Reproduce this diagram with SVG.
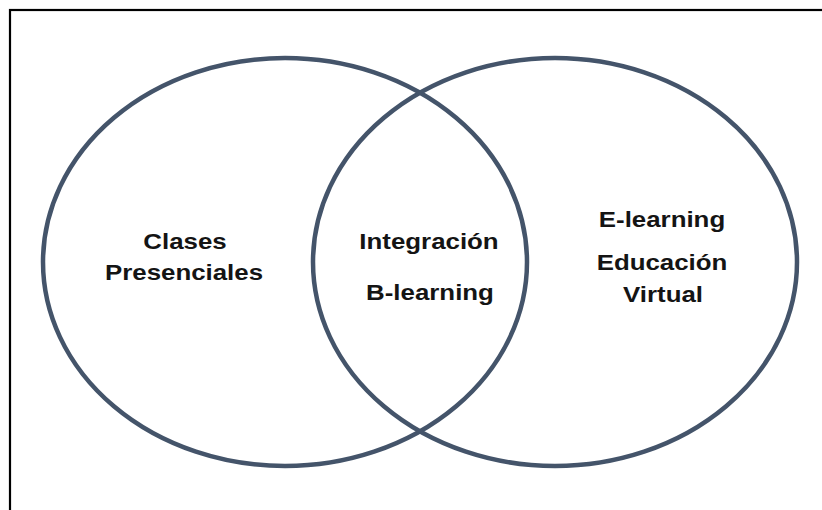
<svg xmlns="http://www.w3.org/2000/svg" width="822" height="510" viewBox="0 0 822 510">
  <style>
    .ring { fill: none; stroke: #44546a; stroke-width: 4.5; }
    .lbl { font-family: "Liberation Sans", Arial, sans-serif; font-weight: bold; font-size: 22px; fill: #141414; text-anchor: middle; }
  </style>
  <rect x="0" y="0" width="822" height="510" fill="#ffffff"/>
  <rect x="10" y="10" width="840" height="530" fill="none" stroke="#000000" stroke-width="2.2"/>
  <g id="presencial">
    <ellipse class="ring" cx="285" cy="262" rx="242" ry="204"/>
    <text class="lbl" transform="translate(185 249) scale(1.175 1)" x="0" y="0">Clases</text>
    <text class="lbl" transform="translate(184 280) scale(1.175 1)" x="0" y="0">Presenciales</text>
  </g>
  <g id="elearning">
    <ellipse class="ring" cx="555" cy="262" rx="242" ry="204"/>
    <text class="lbl" transform="translate(662 227) scale(1.175 1)" x="0" y="0">E-learning</text>
    <text class="lbl" transform="translate(662 270) scale(1.175 1)" x="0" y="0">Educación</text>
    <text class="lbl" transform="translate(663 302) scale(1.175 1)" x="0" y="0">Virtual</text>
  </g>
  <g id="interseccion">
    <text class="lbl" transform="translate(429 249) scale(1.175 1)" x="0" y="0">Integración</text>
    <text class="lbl" transform="translate(430 300) scale(1.175 1)" x="0" y="0">B-learning</text>
  </g>
  <g id="connectors"></g>
</svg>
